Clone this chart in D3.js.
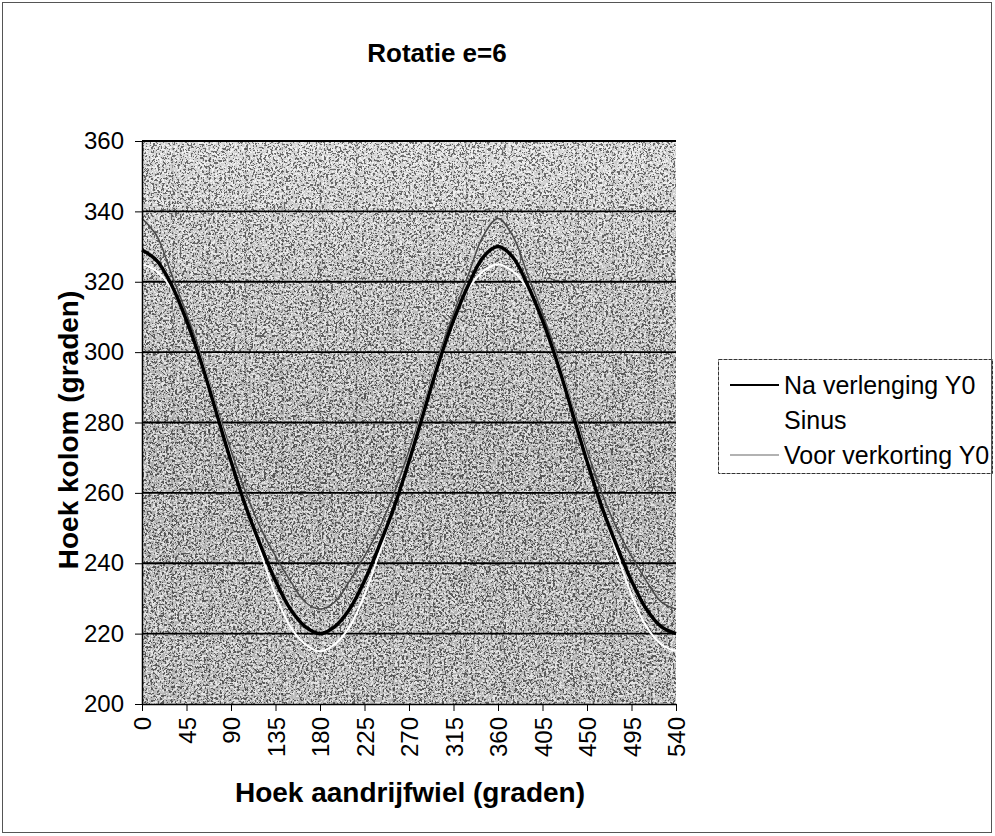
<!DOCTYPE html>
<html>
<head>
<meta charset="utf-8">
<script src="https://cdn.jsdelivr.net/npm/d3@7"></script>
<style>
  body { margin: 0; background: #fff; }
  text { font-family: "Liberation Sans", Arial, sans-serif; fill: #000; }
</style>
</head>
<body>
<svg id="chart"></svg>
<script>
const width = 995;
const height = 836;

// angles of the drive wheel (degrees)
const angles = [0, 15, 30, 45, 60, 75, 90, 105, 120, 135, 150, 165, 180,
  195, 210, 225, 240, 255, 270, 285, 300, 315, 330, 345, 360,
  375, 390, 405, 420, 435, 450, 465, 480, 495, 510, 525, 540];

const naVerlenging = [329, 326, 319, 309, 297, 283, 269, 256, 245, 235, 227, 222, 220,
  222, 227, 235, 245, 256, 269, 283, 297, 309, 319, 327, 330,
  327, 319, 309, 297, 283, 269, 256, 245, 235, 227, 222, 220];

const sinus = [325, 323, 318, 309, 298, 284, 270, 256, 243, 231, 222, 217, 215,
  217, 222, 231, 243, 256, 270, 284, 298, 309, 318, 323, 325,
  323, 318, 309, 298, 284, 270, 256, 243, 231, 222, 217, 215];

const voorVerkorting = [338, 333, 322, 311, 299, 285, 272, 260, 250, 242, 235, 229, 227,
  229, 235, 242, 250, 260, 272, 285, 299, 311, 322, 333, 338,
  333, 322, 311, 299, 285, 272, 260, 250, 242, 235, 229, 227];

const xTicks = [0, 45, 90, 135, 180, 225, 270, 315, 360, 405, 450, 495, 540];
const yTicks = [200, 220, 240, 260, 280, 300, 320, 340, 360];
// faint dotted vertical lines seen in the plot area
const vGrid = [31, 68, 105, 142, 180, 217, 254, 291, 328, 365, 402, 439, 476, 513];

const seriesNames = ["Na verlenging Y0", "Sinus", "Voor verkorting Y0"];
const seriesValues = [naVerlenging, sinus, voorVerkorting];
const seriesColor = ["#000", "#fff", "#4a4a4a"];
const seriesWidth = [3.5, 2, 1.5];

const svg = d3.select("#chart")
  .attr("width", width)
  .attr("height", height);

const x = d3.scaleLinear().domain([0, 540]).range([142, 676]);
const y = d3.scaleLinear().domain([200, 360]).range([704, 141]);

const defs = svg.append("defs");
const grad = defs.append("linearGradient")
  .attr("id", "bg").attr("x1", 0).attr("y1", 0).attr("x2", 0).attr("y2", 1);
grad.append("stop").attr("offset", "0%").attr("stop-color", "#dcdcdc");
grad.append("stop").attr("offset", "22%").attr("stop-color", "#c2c2c2");
grad.append("stop").attr("offset", "55%").attr("stop-color", "#ababab");
grad.append("stop").attr("offset", "100%").attr("stop-color", "#b6b6b6");

// speckle grain like the scanned halftone
function grain(id, seed, rgb, slope, offset, alpha) {
  const f = defs.append("filter").attr("id", id)
    .attr("x", 0).attr("y", 0).attr("width", 1).attr("height", 1);
  f.append("feTurbulence").attr("type", "fractalNoise")
    .attr("baseFrequency", 0.45).attr("numOctaves", 2).attr("seed", seed);
  f.append("feColorMatrix").attr("type", "matrix")
    .attr("values", `0 0 0 0 ${rgb}  0 0 0 0 ${rgb}  0 0 0 0 ${rgb}  ${slope} 0 0 0 ${offset}`);
  f.append("feComponentTransfer")
    .append("feFuncA").attr("type", "discrete").attr("tableValues", `0 ${alpha}`);
}
grain("darkGrain", 3, 0, 3, -1.1, 0.5);
grain("lightGrain", 11, 1, -3, 1.9, 0.65);

const plotW = x(540) - x(0), plotH = y(200) - y(360);
svg.append("rect")
  .attr("x", x(0)).attr("y", y(360)).attr("width", plotW).attr("height", plotH)
  .attr("fill", "url(#bg)");
svg.append("rect")
  .attr("x", x(0)).attr("y", y(360)).attr("width", plotW).attr("height", plotH)
  .attr("fill", "#000").attr("filter", "url(#darkGrain)");
svg.append("rect")
  .attr("x", x(0)).attr("y", y(360)).attr("width", plotW).attr("height", plotH)
  .attr("fill", "#fff").attr("filter", "url(#lightGrain)");

// vertical dotted lines
svg.append("g")
  .selectAll("line")
  .data(vGrid)
  .join("line")
  .attr("x1", d => x(d)).attr("x2", d => x(d))
  .attr("y1", y(360)).attr("y2", y(200))
  .attr("stroke", "#222").attr("stroke-width", 1.5)
  .attr("stroke-dasharray", "3,3").attr("opacity", 0.3);

// horizontal gridlines
svg.append("g")
  .selectAll("line")
  .data(yTicks.filter(d => d > 200))
  .join("line")
  .attr("x1", x(0)).attr("x2", x(540))
  .attr("y1", d => y(d)).attr("y2", d => y(d))
  .attr("stroke", "#000").attr("stroke-width", 1.8);

const line = d3.line()
  .x((d, i) => x(angles[i]))
  .y(d => y(d))
  .curve(d3.curveCatmullRom);

// draw grey first, then white, then black on top
[2, 1, 0].forEach(k => {
  svg.append("path")
    .datum(seriesValues[k])
    .attr("d", line)
    .attr("fill", "none")
    .attr("stroke", seriesColor[k])
    .attr("stroke-width", seriesWidth[k]);
});

// axes
const yAxis = svg.append("g")
  .attr("transform", `translate(${x(0)},0)`)
  .call(d3.axisLeft(y).tickValues(yTicks).tickSize(7).tickPadding(11).tickSizeOuter(0));
yAxis.selectAll("text").style("font-size", "24px");
yAxis.select(".domain").attr("stroke-width", 1.5);

const xAxis = svg.append("g")
  .attr("transform", `translate(0,${y(200)})`)
  .call(d3.axisBottom(x).tickValues(xTicks).tickSize(7).tickSizeOuter(0));
xAxis.select(".domain").attr("stroke-width", 1.5);
xAxis.selectAll("text")
  .style("font-size", "24px")
  .attr("y", 0).attr("x", 0).attr("dy", "0.36em")
  .attr("text-anchor", "end")
  .attr("transform", "translate(0,13) rotate(-90)");

// titles
svg.append("text")
  .attr("x", 437).attr("y", 62)
  .attr("text-anchor", "middle").style("font-size", "26px").attr("font-weight", "bold")
  .text("Rotatie e=6");

svg.append("text")
  .attr("x", 410).attr("y", 802)
  .attr("text-anchor", "middle").style("font-size", "28px").attr("font-weight", "bold")
  .text("Hoek aandrijfwiel (graden)");

svg.append("text")
  .attr("transform", "translate(78,430) rotate(-90)")
  .attr("text-anchor", "middle").style("font-size", "28px").attr("font-weight", "bold")
  .text("Hoek kolom (graden)");

// legend
const legend = svg.append("g");
legend.append("rect")
  .attr("x", 718.5).attr("y", 359.5).attr("width", 274).attr("height", 114)
  .attr("fill", "#fff").attr("stroke", "#333").attr("stroke-width", 1)
  .attr("stroke-dasharray", "4,1");
const items = legend.selectAll("g.item")
  .data(seriesNames)
  .join("g")
  .attr("class", "item")
  .attr("transform", (d, i) => `translate(0,${385 + i * 35})`);
items.append("line")
  .attr("x1", 730).attr("x2", 779)
  .attr("stroke", (d, i) => i === 2 ? "#999" : seriesColor[i])
  .attr("stroke-width", (d, i) => i === 0 ? 2 : 1.5);
items.append("text")
  .attr("x", 784).attr("dy", "0.35em")
  .style("font-size", "25px")
  .text(d => d);

// outer frame
svg.append("rect")
  .attr("x", 2.5).attr("y", 2.5).attr("width", 989).attr("height", 830)
  .attr("fill", "none").attr("stroke", "#555").attr("stroke-width", 1);
</script>
</body>
</html>
